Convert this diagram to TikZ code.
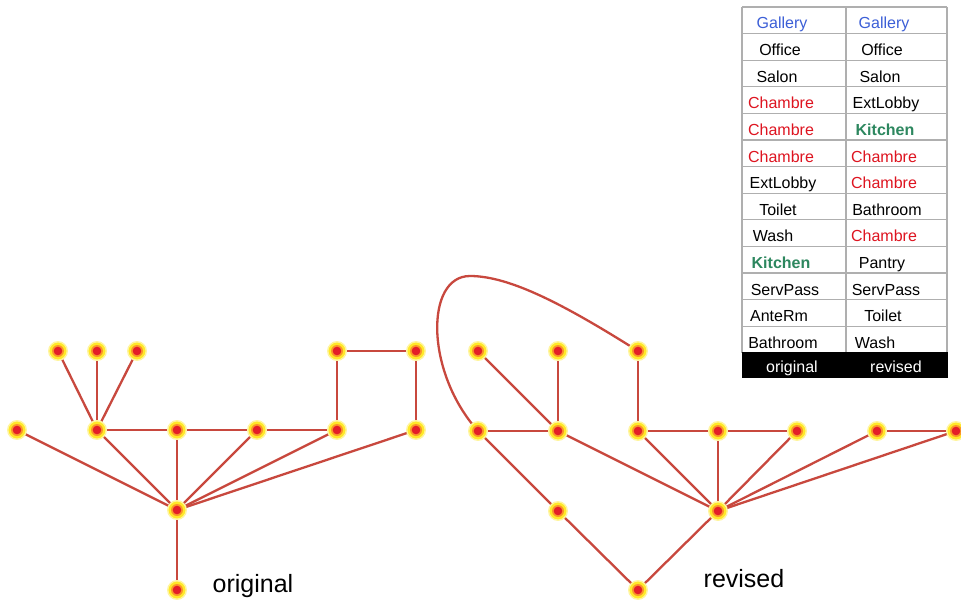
\documentclass[tikz,border=0pt]{standalone}
\usepackage{fontspec}
\setmainfont{Liberation Sans}
\usetikzlibrary{backgrounds}
\definecolor{edgec}{RGB}{200,72,62}
\definecolor{glow}{RGB}{255,232,40}
\definecolor{ringc}{RGB}{250,150,40}
\definecolor{dotc}{RGB}{228,30,40}
\definecolor{galblue}{RGB}{60,95,215}
\definecolor{chred}{RGB}{222,20,32}
\definecolor{kitgreen}{RGB}{45,135,95}
\definecolor{gridc}{RGB}{175,175,175}
\tikzset{
  vtx/.style={circle, inner sep=0pt, minimum size=18.5pt, fill=glow,
    draw=glow!45!white, line width=1.4pt,
    path picture={\fill[ringc] (path picture bounding box.center) circle (6pt);
                  \fill[dotc] (path picture bounding box.center) circle (4.3pt);}},
  conn/.style={draw=edgec, line width=2.3pt},
  cell/.style={anchor=base, inner sep=0pt, font=\fontsize{16}{18}\selectfont},
  biglabel/.style={anchor=base, inner sep=0pt, font=\fontsize{25}{28}\selectfont},
  gridline/.style={draw=gridc, line width=1.1pt}
}
\begin{document}
\begin{tikzpicture}[x=1pt,y=-1pt]
\useasboundingbox (0,0) rectangle (961,602);

% ---------- original graph ----------
\node[vtx] (o1) at (58,351) {};
\node[vtx] (o2) at (97,351) {};
\node[vtx] (o3) at (137,351) {};
\node[vtx] (o4) at (337,351) {};
\node[vtx] (o5) at (416,351) {};
\node[vtx] (m1) at (17,430) {};
\node[vtx] (m2) at (97,430) {};
\node[vtx] (m3) at (177,430) {};
\node[vtx] (m4) at (257,430) {};
\node[vtx] (m5) at (337,430) {};
\node[vtx] (m6) at (416,430) {};
\node[vtx] (oh) at (177,510) {};
\node[vtx] (ob) at (177,590) {};
\node[biglabel] (olab) at (253,592) {original};

% ---------- revised graph ----------
\node[vtx] (a1) at (478,351) {};
\node[vtx] (a2) at (558,351) {};
\node[vtx] (a3) at (638,351) {};
\node[vtx] (b1) at (478,431) {};
\node[vtx] (b2) at (558,431) {};
\node[vtx] (b3) at (638,431) {};
\node[vtx] (b4) at (718,431) {};
\node[vtx] (b5) at (797,431) {};
\node[vtx] (b6) at (877,431) {};
\node[vtx] (b7) at (956,431) {};
\node[vtx] (rh) at (718,511) {};
\node[vtx] (rl) at (558,511) {};
\node[vtx] (rb) at (638,590) {};
\node[biglabel] (rlab) at (744,587) {revised};
\coordinate (ctop) at (470,276);

\begin{pgfonlayer}{background}
  \fill[white] (0,0) rectangle (961,602);
  % original edges
  \draw[conn] (o1.center) -- (m2.center);
  \draw[conn] (o2.center) -- (m2.center);
  \draw[conn] (o3.center) -- (m2.center);
  \draw[conn] (m2.center) -- (m3.center) -- (m4.center) -- (m5.center);
  \draw[conn] (m5.center) -- (o4.center) -- (o5.center) -- (m6.center);
  \foreach \n in {m1,m2,m3,m4,m5,m6,ob} \draw[conn] (oh.center) -- (\n.center);
  % revised edges
  \draw[conn] (a1.center) -- (b2.center);
  \draw[conn] (a2.center) -- (b2.center);
  \draw[conn] (a3.center) -- (b3.center);
  \draw[conn] (b1.center) -- (b2.center);
  \draw[conn] (b3.center) -- (b4.center) -- (b5.center);
  \draw[conn] (b6.center) -- (b7.center);
  \draw[conn] (b1.center) -- (rl.center) -- (rb.center) -- (rh.center);
  \foreach \n in {b2,b3,b4,b5,b6,b7} \draw[conn] (rh.center) -- (\n.center);
  \draw[conn] (b1.center) .. controls (425,372) and (425,276) .. (ctop)
                          .. controls (510,276) and (565,305) .. (a3.center);
\end{pgfonlayer}

% ---------- table ----------
\foreach \k in {0,...,13} \draw[gridline] (742,{7+26.6*\k}) -- (947,{7+26.6*\k});
\draw[gridline] (742,7) -- (742,352.8);
\draw[gridline] (846,7) -- (846,352.8);
\draw[gridline] (947,7) -- (947,352.8);
\fill[black] (742,352) rectangle (948,378);

\node[cell, text=galblue] (c0a) at (782,29) {Gallery};
\node[cell, text=galblue] (c0b) at (884,29) {Gallery};
\node[cell] (c1a) at (780,55.6) {Office};
\node[cell] (c1b) at (882,55.6) {Office};
\node[cell] (c2a) at (777,82.2) {Salon};
\node[cell] (c2b) at (880,82.2) {Salon};
\node[cell, text=chred] (c3a) at (781,108.8) {Chambre};
\node[cell] (c3b) at (886,108.8) {ExtLobby};
\node[cell, text=chred] (c4a) at (781,135.4) {Chambre};
\node[cell, text=kitgreen, font=\fontsize{16}{18}\selectfont\bfseries] (c4b) at (885,135.4) {Kitchen};
\node[cell, text=chred] (c5a) at (781,162) {Chambre};
\node[cell, text=chred] (c5b) at (884,162) {Chambre};
\node[cell] (c6a) at (783,188.6) {ExtLobby};
\node[cell, text=chred] (c6b) at (884,188.6) {Chambre};
\node[cell] (c7a) at (778,215.2) {Toilet};
\node[cell] (c7b) at (887,215.2) {Bathroom};
\node[cell] (c8a) at (773,241.8) {Wash};
\node[cell, text=chred] (c8b) at (884,241.8) {Chambre};
\node[cell, text=kitgreen, font=\fontsize{16}{18}\selectfont\bfseries] (c9a) at (781,268.4) {Kitchen};
\node[cell] (c9b) at (882,268.4) {Pantry};
\node[cell] (c10a) at (785,295) {ServPass};
\node[cell] (c10b) at (886,295) {ServPass};
\node[cell] (c11a) at (779,321.6) {AnteRm};
\node[cell] (c11b) at (883,321.6) {Toilet};
\node[cell] (c12a) at (783,348.2) {Bathroom};
\node[cell] (c12b) at (875,348.2) {Wash};
\node[cell, text=white] (h1) at (792,372) {original};
\node[cell, text=white] (h2) at (896,372) {revised};
\end{tikzpicture}
\end{document}
